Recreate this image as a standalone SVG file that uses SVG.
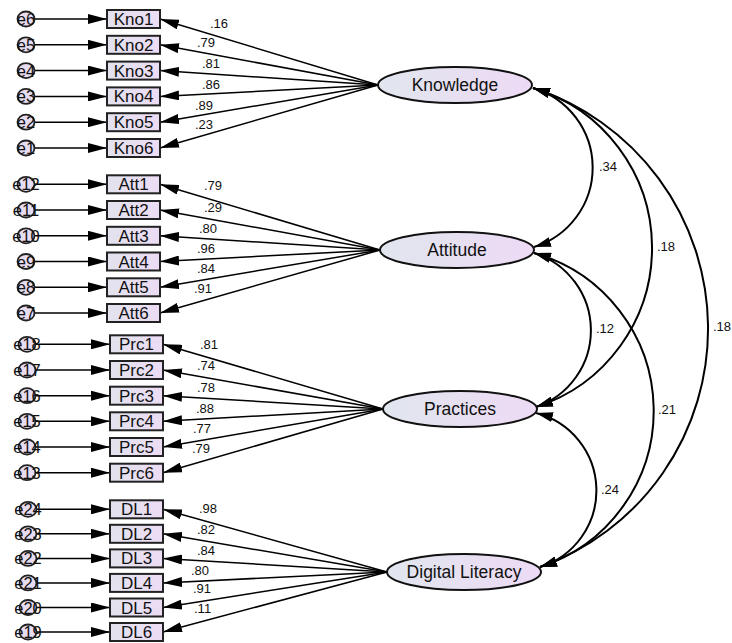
<svg xmlns="http://www.w3.org/2000/svg" width="732" height="643" viewBox="0 0 732 643">
<defs>
<linearGradient id="gE" x1="0" y1="0" x2="1" y2="0"><stop offset="0" stop-color="#e1e6ee"/><stop offset="1" stop-color="#eddaf5"/></linearGradient>
<linearGradient id="gB" x1="0" y1="0" x2="1" y2="0"><stop offset="0" stop-color="#e3e2ee"/><stop offset="1" stop-color="#ecdcf4"/></linearGradient>
<marker id="ah" markerUnits="userSpaceOnUse" markerWidth="20" markerHeight="10" refX="19" refY="5" orient="auto-start-reverse"><path d="M0,0 L19,5 L0,10 z" fill="#000"/></marker>
<marker id="ac" markerUnits="userSpaceOnUse" markerWidth="18" markerHeight="10" refX="17" refY="5" orient="auto-start-reverse"><path d="M0,0 L17,5 L0,10 z" fill="#000"/></marker>
<style>
.lat ellipse{fill:url(#gE);stroke:#111;stroke-width:2}
.lat text{font-family:"Liberation Sans",Arial,sans-serif;font-size:17.5px;text-anchor:middle;fill:#111}
.obs rect{fill:url(#gB);stroke:#222;stroke-width:2}
.obs text{font-family:"Liberation Sans",Arial,sans-serif;font-size:17px;text-anchor:middle;fill:#111}
.err ellipse{fill:#e8dcf0;stroke:#222;stroke-width:1.8}
.err text{font-family:"Liberation Sans",Arial,sans-serif;font-size:16.5px;text-anchor:middle;fill:#111}
.c line{stroke:#000;stroke-width:1.5;marker-end:url(#ah)}
.c path{fill:none;stroke:#000;stroke-width:2;marker-start:url(#ac);marker-end:url(#ac)}
.lb{font-family:"Liberation Sans",Arial,sans-serif;font-size:13px;fill:#111}
</style>
</defs>
<rect width="732" height="643" fill="#fff"/>

<g id="connectors" class="c">
<line x1="35" y1="19" x2="107" y2="19"/>
<line x1="35" y1="44.8" x2="107" y2="44.8"/>
<line x1="35" y1="70.6" x2="107" y2="70.6"/>
<line x1="35" y1="96.4" x2="107" y2="96.4"/>
<line x1="35" y1="122.2" x2="107" y2="122.2"/>
<line x1="35" y1="148" x2="107" y2="148"/>
<line x1="35" y1="184.3" x2="107" y2="184.3"/>
<line x1="35" y1="210" x2="107" y2="210"/>
<line x1="35" y1="235.8" x2="107" y2="235.8"/>
<line x1="35" y1="261.5" x2="107" y2="261.5"/>
<line x1="35" y1="287.3" x2="107" y2="287.3"/>
<line x1="35" y1="313" x2="107" y2="313"/>
<line x1="36" y1="344.3" x2="110" y2="344.3"/>
<line x1="36" y1="370" x2="110" y2="370"/>
<line x1="36" y1="395.7" x2="110" y2="395.7"/>
<line x1="36" y1="421.3" x2="110" y2="421.3"/>
<line x1="36" y1="447" x2="110" y2="447"/>
<line x1="36" y1="472.7" x2="110" y2="472.7"/>
<line x1="37" y1="509.3" x2="110" y2="509.3"/>
<line x1="37" y1="533.8" x2="110" y2="533.8"/>
<line x1="37" y1="558.4" x2="110" y2="558.4"/>
<line x1="37" y1="582.9" x2="110" y2="582.9"/>
<line x1="37" y1="607.5" x2="110" y2="607.5"/>
<line x1="37" y1="632" x2="110" y2="632"/>
<line x1="378" y1="85" x2="160" y2="19"/>
<line x1="378" y1="85" x2="160" y2="44.8"/>
<line x1="378" y1="85" x2="160" y2="70.6"/>
<line x1="378" y1="85" x2="160" y2="96.4"/>
<line x1="378" y1="85" x2="160" y2="122.2"/>
<line x1="378" y1="85" x2="160" y2="148"/>
<line x1="380" y1="250" x2="160" y2="184.3"/>
<line x1="380" y1="250" x2="160" y2="210"/>
<line x1="380" y1="250" x2="160" y2="235.8"/>
<line x1="380" y1="250" x2="160" y2="261.5"/>
<line x1="380" y1="250" x2="160" y2="287.3"/>
<line x1="380" y1="250" x2="160" y2="313"/>
<line x1="383" y1="409" x2="163" y2="344.3"/>
<line x1="383" y1="409" x2="163" y2="370"/>
<line x1="383" y1="409" x2="163" y2="395.7"/>
<line x1="383" y1="409" x2="163" y2="421.3"/>
<line x1="383" y1="409" x2="163" y2="447"/>
<line x1="383" y1="409" x2="163" y2="472.7"/>
<line x1="387" y1="572" x2="163" y2="509.3"/>
<line x1="387" y1="572" x2="163" y2="533.8"/>
<line x1="387" y1="572" x2="163" y2="558.4"/>
<line x1="387" y1="572" x2="163" y2="582.9"/>
<line x1="387" y1="572" x2="163" y2="607.5"/>
<line x1="387" y1="572" x2="163" y2="632"/>
<path d="M533,88 A83,83 0 0 1 534,247"/>
<path d="M533,88 A167,167 0 0 1 536,407"/>
<path d="M533,88 A253,253 0 0 1 540,567"/>
<path d="M534,253 A81,81 0 0 1 536,407"/>
<path d="M534,253 A164,164 0 0 1 540,567"/>
<path d="M536,413 A80,80 0 0 1 540,567"/>
</g>

<g id="labels" class="lb">
<text x="210" y="27.5">.16</text>
<text x="197" y="46.5">.79</text>
<text x="202" y="67.5">.81</text>
<text x="202" y="88.5">.86</text>
<text x="195" y="109.5">.89</text>
<text x="195" y="128.5">.23</text>
<text x="204" y="189.5">.79</text>
<text x="204" y="211.5">.29</text>
<text x="199" y="232.5">.80</text>
<text x="197" y="252.5">.96</text>
<text x="197" y="272.5">.84</text>
<text x="194" y="292.5">.91</text>
<text x="200" y="348.5">.81</text>
<text x="197" y="369.5">.74</text>
<text x="197" y="391.5">.78</text>
<text x="196" y="412.5">.88</text>
<text x="193" y="432.5">.77</text>
<text x="192" y="452.5">.79</text>
<text x="199" y="512.5">.98</text>
<text x="197" y="533.5">.82</text>
<text x="197" y="554.5">.84</text>
<text x="191" y="574.5">.80</text>
<text x="193" y="592.5">.91</text>
<text x="194" y="612.5">.11</text>
<text x="599" y="171">.34</text>
<text x="657" y="251">.18</text>
<text x="713" y="331">.18</text>
<text x="596" y="333">.12</text>
<text x="658" y="414">.21</text>
<text x="601" y="494">.24</text>
</g>

<g id="Knowledge" class="lat"><ellipse cx="455" cy="85" rx="77" ry="18"/><text x="455" y="91">Knowledge</text></g>
<g id="Attitude" class="lat"><ellipse cx="457" cy="250" rx="77" ry="18"/><text x="457" y="256">Attitude</text></g>
<g id="Practices" class="lat"><ellipse cx="460" cy="409" rx="77" ry="18"/><text x="460" y="415">Practices</text></g>
<g id="DigitalLiteracy" class="lat"><ellipse cx="464" cy="572" rx="77" ry="18"/><text x="464" y="578">Digital Literacy</text></g>

<g id="Kno1" class="obs"><rect x="107" y="10" width="53" height="18"/><text x="133.5" y="25">Kno1</text></g>
<g id="Kno2" class="obs"><rect x="107" y="35.8" width="53" height="18"/><text x="133.5" y="50.8">Kno2</text></g>
<g id="Kno3" class="obs"><rect x="107" y="61.6" width="53" height="18"/><text x="133.5" y="76.6">Kno3</text></g>
<g id="Kno4" class="obs"><rect x="107" y="87.4" width="53" height="18"/><text x="133.5" y="102.4">Kno4</text></g>
<g id="Kno5" class="obs"><rect x="107" y="113.2" width="53" height="18"/><text x="133.5" y="128.2">Kno5</text></g>
<g id="Kno6" class="obs"><rect x="107" y="139" width="53" height="18"/><text x="133.5" y="154">Kno6</text></g>
<g id="Att1" class="obs"><rect x="107" y="175.3" width="53" height="18"/><text x="133.5" y="190.3">Att1</text></g>
<g id="Att2" class="obs"><rect x="107" y="201" width="53" height="18"/><text x="133.5" y="216">Att2</text></g>
<g id="Att3" class="obs"><rect x="107" y="226.8" width="53" height="18"/><text x="133.5" y="241.8">Att3</text></g>
<g id="Att4" class="obs"><rect x="107" y="252.5" width="53" height="18"/><text x="133.5" y="267.5">Att4</text></g>
<g id="Att5" class="obs"><rect x="107" y="278.3" width="53" height="18"/><text x="133.5" y="293.3">Att5</text></g>
<g id="Att6" class="obs"><rect x="107" y="304" width="53" height="18"/><text x="133.5" y="319">Att6</text></g>
<g id="Prc1" class="obs"><rect x="110" y="335.3" width="53" height="18"/><text x="136.5" y="350.3">Prc1</text></g>
<g id="Prc2" class="obs"><rect x="110" y="361" width="53" height="18"/><text x="136.5" y="376">Prc2</text></g>
<g id="Prc3" class="obs"><rect x="110" y="386.7" width="53" height="18"/><text x="136.5" y="401.7">Prc3</text></g>
<g id="Prc4" class="obs"><rect x="110" y="412.3" width="53" height="18"/><text x="136.5" y="427.3">Prc4</text></g>
<g id="Prc5" class="obs"><rect x="110" y="438" width="53" height="18"/><text x="136.5" y="453">Prc5</text></g>
<g id="Prc6" class="obs"><rect x="110" y="463.7" width="53" height="18"/><text x="136.5" y="478.7">Prc6</text></g>
<g id="DL1" class="obs"><rect x="110" y="500.3" width="53" height="18"/><text x="136.5" y="515.3">DL1</text></g>
<g id="DL2" class="obs"><rect x="110" y="524.8" width="53" height="18"/><text x="136.5" y="539.8">DL2</text></g>
<g id="DL3" class="obs"><rect x="110" y="549.4" width="53" height="18"/><text x="136.5" y="564.4">DL3</text></g>
<g id="DL4" class="obs"><rect x="110" y="573.9" width="53" height="18"/><text x="136.5" y="588.9">DL4</text></g>
<g id="DL5" class="obs"><rect x="110" y="598.5" width="53" height="18"/><text x="136.5" y="613.5">DL5</text></g>
<g id="DL6" class="obs"><rect x="110" y="623" width="53" height="18"/><text x="136.5" y="638">DL6</text></g>

<g id="e6" class="err"><ellipse cx="26" cy="19" rx="8.5" ry="7.5"/><text x="26" y="25">e6</text></g>
<g id="e5" class="err"><ellipse cx="26" cy="44.8" rx="8.5" ry="7.5"/><text x="26" y="50.8">e5</text></g>
<g id="e4" class="err"><ellipse cx="26" cy="70.6" rx="8.5" ry="7.5"/><text x="26" y="76.6">e4</text></g>
<g id="e3" class="err"><ellipse cx="26" cy="96.4" rx="8.5" ry="7.5"/><text x="26" y="102.4">e3</text></g>
<g id="e2" class="err"><ellipse cx="26" cy="122.2" rx="8.5" ry="7.5"/><text x="26" y="128.2">e2</text></g>
<g id="e1" class="err"><ellipse cx="26" cy="148" rx="8.5" ry="7.5"/><text x="26" y="154">e1</text></g>
<g id="e12" class="err"><ellipse cx="26" cy="184.3" rx="8.5" ry="7.5"/><text x="26" y="190.3">e12</text></g>
<g id="e11" class="err"><ellipse cx="26" cy="210" rx="8.5" ry="7.5"/><text x="26" y="216">e11</text></g>
<g id="e10" class="err"><ellipse cx="26" cy="235.8" rx="8.5" ry="7.5"/><text x="26" y="241.8">e10</text></g>
<g id="e9" class="err"><ellipse cx="26" cy="261.5" rx="8.5" ry="7.5"/><text x="26" y="267.5">e9</text></g>
<g id="e8" class="err"><ellipse cx="26" cy="287.3" rx="8.5" ry="7.5"/><text x="26" y="293.3">e8</text></g>
<g id="e7" class="err"><ellipse cx="26" cy="313" rx="8.5" ry="7.5"/><text x="26" y="319">e7</text></g>
<g id="e18" class="err"><ellipse cx="27" cy="344.3" rx="8.5" ry="7.5"/><text x="27" y="350.3">e18</text></g>
<g id="e17" class="err"><ellipse cx="27" cy="370" rx="8.5" ry="7.5"/><text x="27" y="376">e17</text></g>
<g id="e16" class="err"><ellipse cx="27" cy="395.7" rx="8.5" ry="7.5"/><text x="27" y="401.7">e16</text></g>
<g id="e15" class="err"><ellipse cx="27" cy="421.3" rx="8.5" ry="7.5"/><text x="27" y="427.3">e15</text></g>
<g id="e14" class="err"><ellipse cx="27" cy="447" rx="8.5" ry="7.5"/><text x="27" y="453">e14</text></g>
<g id="e13" class="err"><ellipse cx="27" cy="472.7" rx="8.5" ry="7.5"/><text x="27" y="478.7">e13</text></g>
<g id="e24" class="err"><ellipse cx="28" cy="509.3" rx="8.5" ry="7.5"/><text x="28" y="515.3">e24</text></g>
<g id="e23" class="err"><ellipse cx="28" cy="533.8" rx="8.5" ry="7.5"/><text x="28" y="539.8">e23</text></g>
<g id="e22" class="err"><ellipse cx="28" cy="558.4" rx="8.5" ry="7.5"/><text x="28" y="564.4">e22</text></g>
<g id="e21" class="err"><ellipse cx="28" cy="582.9" rx="8.5" ry="7.5"/><text x="28" y="588.9">e21</text></g>
<g id="e20" class="err"><ellipse cx="28" cy="607.5" rx="8.5" ry="7.5"/><text x="28" y="613.5">e20</text></g>
<g id="e19" class="err"><ellipse cx="28" cy="632" rx="8.5" ry="7.5"/><text x="28" y="638">e19</text></g>
</svg>
